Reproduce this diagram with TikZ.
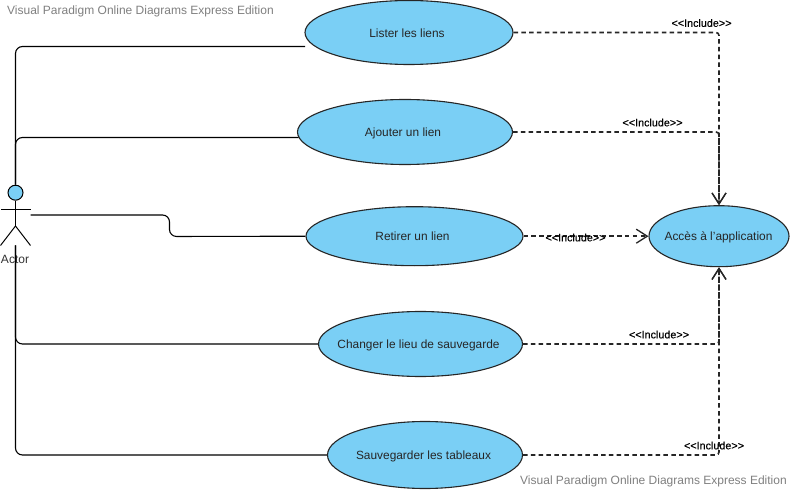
\documentclass[tikz,border=0pt]{standalone}
\usepackage{fontspec}
\setmainfont{Liberation Sans}
\newfontfamily\inclfont{Liberation Sans}[FakeBold=0.35]
\usetikzlibrary{shapes.geometric,arrows.meta}
\tikzset{
  usecase/.style={ellipse,draw=black!85,line width=1.1bp,fill=ucblue,inner sep=0pt},
  uctext/.style={inner sep=0pt,text=black!85,text height=9.4bp,text depth=0pt,font=\fontsize{11.9bp}{14bp}\selectfont},
  assoc/.style={draw=black,line width=1.1bp,rounded corners=7bp},
  incl/.style={draw=black!85,line width=1.6bp,dash pattern=on 4.5bp off 3.3bp,rounded corners=3bp,-{Straight Barb[length=11bp,width=14bp,line width=1.3bp]}},
  incllabel/.style={inner sep=0pt,font=\inclfont\fontsize{10.8bp}{13bp}\selectfont},
  watermark/.style={inner sep=0pt,anchor=west,text=black!50,font=\fontsize{12bp}{14bp}\selectfont},
  limb/.style={draw=black,line width=1bp}
}
\definecolor{ucblue}{HTML}{7ACFF5}
\begin{document}
\begin{tikzpicture}[x=1bp,y=-1bp]
\path[use as bounding box,fill=white] (0,0) rectangle (792,491);
\node[watermark] (wm1) at (7,11) {Visual Paradigm Online Diagrams Express Edition};
\node[watermark] (wm2) at (520,481) {Visual Paradigm Online Diagrams Express Edition};

\node[usecase,minimum width=208bp,minimum height=64bp] (lister) at (409,32.5) {};
\node[usecase,minimum width=215bp,minimum height=65bp] (ajouter) at (405,132) {};
\node[usecase,minimum width=217bp,minimum height=59bp] (retirer) at (414.5,236.2) {};
\node[usecase,minimum width=204bp,minimum height=65bp] (changer) at (420.5,344) {};
\node[usecase,minimum width=195bp,minimum height=67bp] (sauver) at (425,455) {};
\node[usecase,minimum width=140bp,minimum height=61bp] (acces) at (719,236.2) {};
\node[uctext] (tlister) at (407,32.5) {Lister les liens};
\node[uctext] (tajouter) at (403,132) {Ajouter un lien};
\node[uctext] (tretirer) at (412.5,236.2) {Retirer un lien};
\node[uctext] (tchanger) at (418.5,344) {Changer le lieu de sauvegarde};
\node[uctext] (tsauver) at (423.5,455) {Sauvegarder les tableaux};
\node[uctext] (tacces) at (718.5,236.2) {Accès à l'application};

% actor
\node[circle,draw=black,line width=1bp,fill=ucblue,minimum size=15bp,inner sep=0pt] (head) at (15.5,192.7) {};
\coordinate (hip) at (15.5,226);
\coordinate (armL) at (1,209.3);
\coordinate (armR) at (30.5,209.3);
\coordinate (legL) at (0.5,245.5);
\coordinate (legR) at (30.5,245.5);
\coordinate (foot) at (15.5,245.5);
\coordinate (handR) at (30.5,215);
\draw[limb] (head.south) -- (hip);
\draw[limb] (armL) -- (armR);
\draw[limb] (legL) -- (hip) -- (legR);
\node[inner sep=0pt,text=black!80,font=\fontsize{12bp}{14bp}\selectfont] (actorlabel) at (15,259) {Actor};

% associations
\coordinate (listerEnd) at (305,46.5);
\coordinate (ajouterEnd) at (298.5,137.5);
\draw[assoc] (head.north) |- (listerEnd);
\draw[assoc] (head.north) |- (ajouterEnd);
\draw[assoc] (foot) |- (changer.west);
\draw[assoc] (foot) |- (sauver.west);
\coordinate (elbowA) at (169.5,215);
\coordinate (elbowB) at (169.5,236.5);
\draw[assoc] (handR) -- (elbowA) -- (elbowB) -- (retirer.west);

% includes
\draw[incl] (lister.east) -| (acces.north);
\draw[incl] (ajouter.east) -| (acces.north);
\draw[incl] (retirer.east) -- (acces.west);
\draw[incl] (changer.east) -| (acces.south);
\draw[incl] (sauver.east) -| (acces.south);

\node[incllabel] (l1) at (701.5,23) {<{}<Include>{}>};
\node[incllabel] (l2) at (652.5,122.5) {<{}<Include>{}>};
\node[incllabel] (l3) at (575.5,237.5) {<{}<Include>{}>};
\node[incllabel] (l4) at (659,334.5) {<{}<Include>{}>};
\node[incllabel] (l5) at (714,445.5) {<{}<Include>{}>};
\end{tikzpicture}
\end{document}
